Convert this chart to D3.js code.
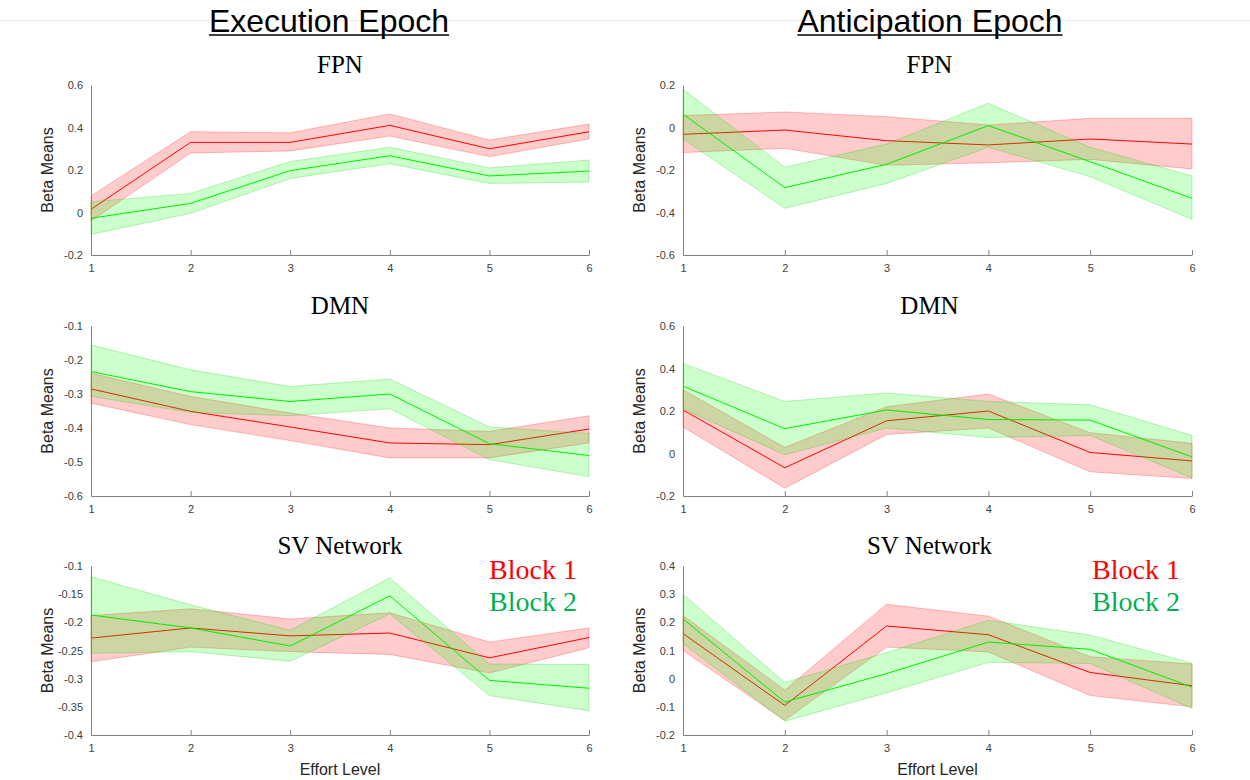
<!DOCTYPE html>
<html>
<head>
<meta charset="utf-8">
<script src="https://cdn.jsdelivr.net/npm/d3@7"></script>
<style>
  body { margin: 0; background: #fff; }
  svg text { font-family: "Liberation Sans", Arial, sans-serif; }
</style>
</head>
<body>
<div id="chart"></div>
<script>
// effort levels on the x axis
var levels = [1, 2, 3, 4, 5, 6];
var blockNames = ['Block 1', 'Block 2'];

// Execution epoch, FPN
var exFpnB1 = [0.015, 0.33, 0.33, 0.41, 0.30, 0.38],
    exFpnB1Hi = [0.078, 0.38, 0.375, 0.464, 0.341, 0.416],
    exFpnB1Lo = [-0.04, 0.28, 0.29, 0.36, 0.263, 0.346],
    exFpnB2 = [-0.027, 0.043, 0.197, 0.267, 0.172, 0.195],
    exFpnB2Hi = [0.05, 0.09, 0.24, 0.307, 0.21, 0.247],
    exFpnB2Lo = [-0.103, -0.004, 0.16, 0.23, 0.137, 0.143];

// Anticipation epoch, FPN
var anFpnB1 = [-0.032, -0.012, -0.062, -0.082, -0.054, -0.078],
    anFpnB1Hi = [0.056, 0.073, 0.051, 0.012, 0.043, 0.043],
    anFpnB1Lo = [-0.118, -0.098, -0.178, -0.166, -0.15, -0.195],
    anFpnB2 = [0.063, -0.283, -0.173, 0.009, -0.161, -0.333],
    anFpnB2Hi = [0.18, -0.187, -0.078, 0.114, -0.093, -0.228],
    anFpnB2Lo = [-0.054, -0.38, -0.263, -0.093, -0.231, -0.432];

// Execution epoch, DMN
var exDmnB1 = [-0.285, -0.351, -0.397, -0.444, -0.449, -0.403],
    exDmnB1Hi = [-0.239, -0.307, -0.356, -0.40, -0.41, -0.364],
    exDmnB1Lo = [-0.327, -0.39, -0.437, -0.488, -0.488, -0.444],
    exDmnB2 = [-0.234, -0.293, -0.322, -0.30, -0.446, -0.481],
    exDmnB2Hi = [-0.156, -0.229, -0.278, -0.256, -0.397, -0.416],
    exDmnB2Lo = [-0.307, -0.354, -0.364, -0.343, -0.493, -0.543];

// Anticipation epoch, DMN
var anDmnB1 = [0.205, -0.067, 0.154, 0.20, 0.005, -0.035],
    anDmnB1Hi = [0.30, 0.029, 0.22, 0.28, 0.098, 0.048],
    anDmnB1Lo = [0.125, -0.163, 0.09, 0.12, -0.086, -0.118],
    anDmnB2 = [0.317, 0.117, 0.205, 0.16, 0.157, -0.016],
    anDmnB2Hi = [0.424, 0.245, 0.285, 0.245, 0.229, 0.085],
    anDmnB2Lo = [0.21, -0.006, 0.12, 0.075, 0.085, -0.115];

// Execution epoch, SV network
var exSvB1 = [-0.228, -0.21, -0.224, -0.219, -0.263, -0.227],
    exSvB1Hi = [-0.188, -0.176, -0.194, -0.183, -0.235, -0.21],
    exSvB1Lo = [-0.27, -0.244, -0.252, -0.257, -0.29, -0.245],
    exSvB2 = [-0.187, -0.21, -0.242, -0.153, -0.303, -0.317],
    exSvB2Hi = [-0.119, -0.169, -0.214, -0.121, -0.274, -0.275],
    exSvB2Lo = [-0.255, -0.252, -0.269, -0.185, -0.33, -0.357];

// Anticipation epoch, SV network
var anSvB1 = [0.16, -0.095, 0.187, 0.156, 0.022, -0.025],
    anSvB1Hi = [0.224, -0.04, 0.264, 0.222, 0.078, 0.052],
    anSvB1Lo = [0.10, -0.148, 0.112, 0.095, -0.06, -0.10],
    anSvB2 = [0.212, -0.083, 0.018, 0.13, 0.104, -0.03],
    anSvB2Hi = [0.30, -0.014, 0.093, 0.207, 0.155, 0.055],
    anSvB2Lo = [0.125, -0.151, -0.05, 0.058, 0.054, -0.106];

// y tick labels per panel
var exFpnTicks = [-0.2, 0, 0.2, 0.4, 0.6],
    anFpnTicks = [-0.6, -0.4, -0.2, 0, 0.2],
    exDmnTicks = [-0.6, -0.5, -0.4, -0.3, -0.2, -0.1],
    anDmnTicks = [-0.2, 0, 0.2, 0.4, 0.6],
    exSvTicks = [-0.4, -0.35, -0.3, -0.25, -0.2, -0.15, -0.1],
    anSvTicks = [-0.2, -0.1, 0, 0.1, 0.2, 0.3, 0.4];

var epochTitles = ['Execution Epoch', 'Anticipation Epoch'];
var networkTitles = ['FPN', 'DMN', 'SV Network'];

////////////////////////////////////////////////////////////
// layout
////////////////////////////////////////////////////////////
var width = 1250, height = 780;
var colX = [[91, 589], [683, 1192]];
var rowY = [[85, 255], [326, 496], [566, 735]];
var lineColors = ['#ff0000', '#00ee00'],
    fillColors = ['rgba(255,0,0,0.2)', 'rgba(0,255,0,0.2)'],
    edgeColors = ['rgba(255,0,0,0.25)', 'rgba(0,200,0,0.25)'],
    legendColors = ['#ff0000', '#00b050'];

var panels = [
  { row: 0, col: 0, ticks: exFpnTicks, series: [[exFpnB1, exFpnB1Lo, exFpnB1Hi], [exFpnB2, exFpnB2Lo, exFpnB2Hi]] },
  { row: 0, col: 1, ticks: anFpnTicks, series: [[anFpnB1, anFpnB1Lo, anFpnB1Hi], [anFpnB2, anFpnB2Lo, anFpnB2Hi]] },
  { row: 1, col: 0, ticks: exDmnTicks, series: [[exDmnB1, exDmnB1Lo, exDmnB1Hi], [exDmnB2, exDmnB2Lo, exDmnB2Hi]] },
  { row: 1, col: 1, ticks: anDmnTicks, series: [[anDmnB1, anDmnB1Lo, anDmnB1Hi], [anDmnB2, anDmnB2Lo, anDmnB2Hi]] },
  { row: 2, col: 0, ticks: exSvTicks, series: [[exSvB1, exSvB1Lo, exSvB1Hi], [exSvB2, exSvB2Lo, exSvB2Hi]] },
  { row: 2, col: 1, ticks: anSvTicks, series: [[anSvB1, anSvB1Lo, anSvB1Hi], [anSvB2, anSvB2Lo, anSvB2Hi]] }
];

var svg = d3.select('#chart').append('svg')
  .attr('width', width)
  .attr('height', height);

// faint page rule behind the headings
svg.append('line')
  .attr('x1', 0).attr('x2', width)
  .attr('y1', 20.5).attr('y2', 20.5)
  .attr('stroke', '#ececec');

// epoch headings (underlined)
epochTitles.forEach(function(t, i) {
  var cx = i ? 930 : 329;
  var txt = svg.append('text')
    .attr('x', cx).attr('y', 32)
    .attr('text-anchor', 'middle')
    .style('font-size', '32px')
    .attr('fill', '#000')
    .text(t);
  var bb = txt.node().getBBox();
  svg.append('line')
    .attr('x1', bb.x).attr('x2', bb.x + bb.width)
    .attr('y1', 35).attr('y2', 35)
    .attr('stroke', '#000').attr('stroke-width', 1.6);
});

var fmt = function(v) { return String(+v.toFixed(2)); };

panels.forEach(function(p) {
  var x0 = colX[p.col][0], x1 = colX[p.col][1];
  var y0 = rowY[p.row][0], y1 = rowY[p.row][1];

  var x = d3.scaleLinear().domain([1, 6]).range([x0, x1]);
  var y = d3.scaleLinear().domain(d3.extent(p.ticks)).range([y1, y0]);

  var g = svg.append('g');

  // shaded error bars: band + mean line per block
  p.series.forEach(function(s, b) {
    var rows = levels.map(function(l, i) { return { l: l, m: s[0][i], lo: s[1][i], hi: s[2][i] }; });
    var area = d3.area()
      .x(function(d) { return x(d.l); })
      .y0(function(d) { return y(d.lo); })
      .y1(function(d) { return y(d.hi); });
    g.append('path')
      .attr('d', area(rows))
      .attr('fill', fillColors[b])
      .attr('stroke', edgeColors[b])
      .attr('stroke-width', 1);
    var line = d3.line()
      .x(function(d) { return x(d.l); })
      .y(function(d) { return y(d.m); });
    g.append('path')
      .attr('d', line(rows))
      .attr('fill', 'none')
      .attr('stroke', lineColors[b])
      .attr('stroke-width', 1);
  });

  // axes
  var xAxis = d3.axisBottom(x).tickValues(levels).tickFormat(d3.format('d'))
    .tickSizeInner(-5).tickSizeOuter(0).tickPadding(9);
  var yAxis = d3.axisLeft(y).tickValues(p.ticks).tickFormat(fmt)
    .tickSizeInner(0).tickSizeOuter(0).tickPadding(8);

  var gx = g.append('g').attr('transform', 'translate(0,' + y1 + ')').call(xAxis);
  var gy = g.append('g').attr('transform', 'translate(' + x0 + ',0)').call(yAxis);
  [gx, gy].forEach(function(a) {
    a.select('.domain').attr('stroke', '#808080');
    a.selectAll('.tick line').attr('stroke', '#808080');
    a.selectAll('.tick text').attr('fill', '#404040').style('font-size', '11px');
  });

  // panel title
  svg.append('text')
    .attr('x', (x0 + x1) / 2 - (p.col ? 8 : 0))
    .attr('y', y0 - 12)
    .attr('text-anchor', 'middle')
    .style('font-family', '"Liberation Serif", "Times New Roman", serif')
    .style('font-size', '25px')
    .attr('fill', '#000')
    .text(networkTitles[p.row]);

  // y label
  svg.append('text')
    .attr('transform', 'translate(' + (x0 - 38) + ',' + ((y0 + y1) / 2) + ') rotate(-90)')
    .attr('text-anchor', 'middle')
    .style('font-size', '16px')
    .attr('fill', '#262626')
    .text('Beta Means');

  if (p.row === 2) {
    svg.append('text')
      .attr('x', (x0 + x1) / 2)
      .attr('y', y1 + 40)
      .attr('text-anchor', 'middle')
      .style('font-size', '16px')
      .attr('fill', '#262626')
      .text('Effort Level');

    blockNames.forEach(function(n, b) {
      svg.append('text')
        .attr('x', x1 - 12)
        .attr('y', y0 + 13 + b * 32)
        .attr('text-anchor', 'end')
        .style('font-family', '"Liberation Serif", "Times New Roman", serif')
        .style('font-size', '28px')
        .attr('fill', legendColors[b])
        .text(n);
    });
  }
});
</script>
</body>
</html>
